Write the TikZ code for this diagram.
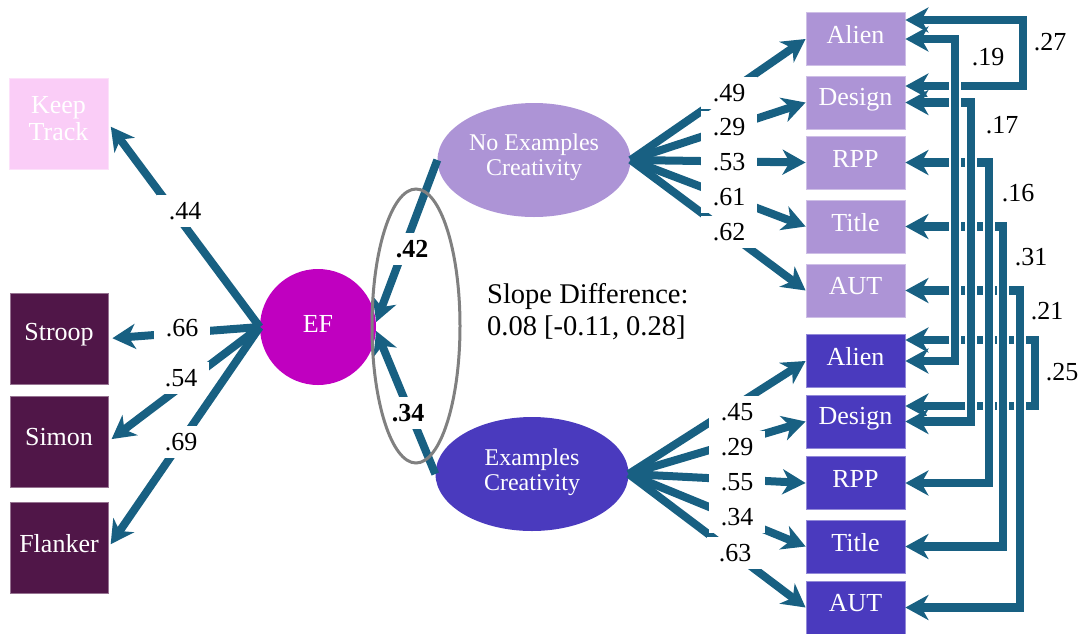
\documentclass[tikz,border=0pt]{standalone}
\usepackage{fontspec}
\setmainfont{Liberation Serif}
\usetikzlibrary{arrows.meta,shapes.geometric,calc}

\definecolor{linkc}{RGB}{24,96,130}
\definecolor{keepc}{RGB}{250,205,247}
\definecolor{taskc}{RGB}{80,22,72}
\definecolor{efc}{RGB}{192,0,192}
\definecolor{noexc}{RGB}{173,148,214}
\definecolor{exc}{RGB}{74,58,190}
\definecolor{ringc}{RGB}{128,128,128}

\newcommand\fsLab{\fontsize{26}{28}\selectfont}
\newcommand\fsBox{\fontsize{26}{27}\selectfont}
\newcommand\fsEll{\fontsize{24}{25}\selectfont}
\newcommand\fsSlope{\fontsize{28.5}{32}\selectfont}
% raise a text block without changing the size of its box
\newcommand\upby[2]{\raisebox{#1}[\height][\depth]{#2}}
\newcommand\twolines[2]{\begin{tabular}{@{}c@{}}#1\\#2\end{tabular}}

\begin{document}
\begin{tikzpicture}[x=1pt,y=-1pt,
  >={Stealth[length=23pt,width=25pt,inset=7pt]},
  box/.style={rectangle, fill=#1, draw=#1!60!white, line width=0.8pt,
    inner sep=0pt, text=white, font=\fsBox},
  obs/.style={box=#1, minimum width=99pt, minimum height=53pt},
  task/.style={box=taskc, minimum width=98pt, minimum height=91pt},
  latent/.style={ellipse, fill=#1, inner sep=0pt, minimum width=193pt,
    minimum height=114pt, text=white, font=\fsEll},
  link/.style={draw=linkc, line width=8pt, ->},
  corr/.style={draw=linkc, line width=8.5pt, <->,
    preaction={draw=white, line width=11.5pt, arrows=-,
      shorten >=16pt, shorten <=16pt}},
  lab/.style={fill=white, inner xsep=12pt, inner ysep=7pt, font=\fsLab},
  rlab/.style={inner sep=1pt, font=\fsLab}]

\useasboundingbox (0,0) rectangle (1085,633);

% executive function indicators
\node[box=keepc, minimum width=99pt, minimum height=91pt] (kt) at (58.5,123.5)
  {\upby{2pt}{\twolines{Keep}{Track}}};
\node[task] (st) at (59,338.5) {\upby{4pt}{Stroop}};
\node[task] (si) at (59,441.5) {\upby{4pt}{Simon}};
\node[task] (fl) at (59,547.5) {\upby{4pt}{Flanker}};

% latent variables
\node[circle, fill=efc, minimum size=116pt, inner sep=0pt, text=white, font=\fsLab] (ef) at (318,327) {\upby{3pt}{EF}};
\node[latent=noexc] (nx) at (534,160) {\upby{2pt}{\twolines{No Examples}{Creativity}}};
\node[latent=exc] (ex) at (532,474) {\upby{1pt}{\twolines{Examples}{Creativity}}};

% creativity indicators, no examples condition
\node[obs=noexc] (na) at (855.5,39) {\upby{4pt}{Alien}};
\node[obs=noexc] (nd) at (855.5,102.5) {\upby{3pt}{Design}};
\node[obs=noexc] (nr) at (855.5,162.5) {\upby{4pt}{RPP}};
\node[obs=noexc] (nt) at (855.5,226.5) {\upby{4pt}{Title}};
\node[obs=noexc] (nu) at (855.5,290.5) {\upby{4pt}{AUT}};

% creativity indicators, examples condition
\node[obs=exc] (ea) at (855.5,361) {\upby{4pt}{Alien}};
\node[obs=exc] (ed) at (855.5,421.5) {\upby{3pt}{Design}};
\node[obs=exc] (er) at (855.5,483) {\upby{4pt}{RPP}};
\node[obs=exc] (et) at (855.5,546.5) {\upby{4pt}{Title}};
\node[obs=exc] (eu) at (855.5,607.5) {\upby{4pt}{AUT}};

% loadings
\foreach \t in {kt,st,si,fl} \draw[link, shorten >=4pt] (ef.west) -- (\t.east);
\foreach \t in {na,nd,nr,nt,nu} \draw[link] (nx.east) -- (\t.west);
\foreach \t in {ea,ed,er,et,eu} \draw[link] (ex.east) -- (\t.west);

% regressions on EF
\draw[link] (nx.west) -- ($(ef.east)+(0,-5)$);
\draw[link] (ex.west) -- ($(ef.east)+(0,4)$);

% residual correlations
\coordinate (v19) at (955,0);
\coordinate (v17) at (971,0);
\coordinate (v16) at (989,0);
\coordinate (v31) at (1003,0);
\coordinate (v21) at (1020,0);
\coordinate (v27) at (1023,0);
\coordinate (v25) at (1035,0);
\coordinate (na27) at ($(na.east)+(0,-19)$);
\coordinate (nd27) at ($(nd.east)+(0,-16.5)$);
\coordinate (ea25) at ($(ea.east)+(0,-21)$);
\coordinate (ed25) at ($(ed.east)+(0,-15.5)$);

\draw[corr] (na27) -- (na27 -| v27) -- (nd27 -| v27) -- (nd27);
\draw[corr] (ea25) -- (ea25 -| v25) -- (ed25 -| v25) -- (ed25);
\draw[corr] (nu.east) -- (nu.east -| v21) -- (eu.east -| v21) -- (eu.east);
\draw[corr] (nt.east) -- (nt.east -| v31) -- (et.east -| v31) -- (et.east);
\draw[corr] (nr.east) -- (nr.east -| v16) -- (er.east -| v16) -- (er.east);
\draw[corr] (nd.east) -- (nd.east -| v17) -- (ed.east -| v17) -- (ed.east);
\draw[corr] (na.east) -- (na.east -| v19) -- (ea.east -| v19) -- (ea.east);

% coefficient labels
\node[lab] (l44) at (185,211) {.44};
\node[lab] (l66) at (182,328) {.66};
\node[lab] (l54) at (181,378) {.54};
\node[lab] (l69) at (181,442) {.69};

\node[lab, font=\fsLab\bfseries] (l42) at (412,249) {.42};
\node[lab, font=\fsLab\bfseries] (l34) at (408,413) {.34};

\node[lab] (u49) at (729,93) {.49};
\node[lab] (u29) at (729,127) {.29};
\node[lab] (u53) at (729,162) {.53};
\node[lab] (u61) at (729,197) {.61};
\node[lab] (u62) at (729,232) {.62};

\node[lab] (d45) at (737,412) {.45};
\node[lab] (d29) at (737,447) {.29};
\node[lab] (d55) at (737,482) {.55};
\node[lab] (d34) at (737,517) {.34};
\node[lab] (d63) at (735,553) {.63};

\node[rlab] (r27) at (1050,42) {.27};
\node[rlab] (r19) at (988,57) {.19};
\node[rlab] (r17) at (1002,125) {.17};
\node[rlab] (r16) at (1018,193) {.16};
\node[rlab] (r31) at (1031,257) {.31};
\node[rlab] (r21) at (1047,311) {.21};
\node[rlab] (r25) at (1062,372) {.25};

% slope comparison
\node[anchor=west, align=left, font=\fsSlope, inner sep=0pt] (sd) at (487,312)
  {Slope Difference:\\0.08 [-0.11, 0.28]};
\node[draw=ringc, line width=3pt, ellipse, inner sep=0pt,
  minimum width=88pt, minimum height=274pt] (ring) at (416,326) {};

\end{tikzpicture}
\end{document}
